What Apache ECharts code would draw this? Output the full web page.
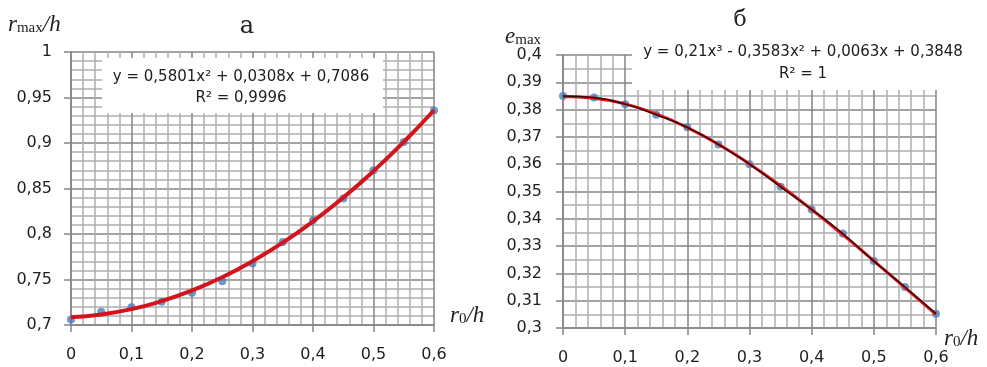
<!DOCTYPE html>
<html><head><meta charset="utf-8">
<script src="https://cdn.jsdelivr.net/npm/echarts@6/dist/echarts.min.js"></script>
<style>html,body{margin:0;padding:0;background:#fff}#c{width:987px;height:367px}</style>
</head><body><div id="c"></div>
<script>
// ---- data ----
const xValues    = [0, 0.05, 0.1, 0.15, 0.2, 0.25, 0.3, 0.35, 0.4, 0.45, 0.5, 0.55, 0.6];
const rmaxPoints = [0.706, 0.7146, 0.7194, 0.7256, 0.7354, 0.748, 0.7676, 0.7913, 0.815, 0.839, 0.870, 0.901, 0.9357];
const rmaxTrend  = [0.7086, 0.7116, 0.7174, 0.7263, 0.7380, 0.7525, 0.7701, 0.7905, 0.8138, 0.8400, 0.8691, 0.9011, 0.9360];
const emaxPoints = [0.3850, 0.3844, 0.3820, 0.3781, 0.3735, 0.3672, 0.3600, 0.3517, 0.3434, 0.3346, 0.3245, 0.3150, 0.3052];
const emaxTrend  = [0.3848, 0.3842, 0.3821, 0.3784, 0.3734, 0.3673, 0.3601, 0.3521, 0.3434, 0.3342, 0.3246, 0.3148, 0.3050];
const leftEquation  = ['y = 0,5801x² + 0,0308x + 0,7086', 'R² = 0,9996'];
const rightEquation = ['y = 0,21x³ - 0,3583x² + 0,0063x + 0,3848', 'R² = 1'];
const leftTitle = 'а';
const rightTitle = 'б';

// ---- helpers ----
const pairs = (xs, ys) => xs.map((x, i) => [x, ys[i]]);
const fmt = v => String(Math.round(v * 1000) / 1000).replace('.', ',');
const TXT = '#1e1e1e';
const MAJOR = '#858585', MINOR = '#afafaf';
const labelFont = { fontFamily: 'DejaVu Sans', fontSize: 16, color: TXT };

function xAxisFor(gi) {
  return {
    type: 'value', gridIndex: gi, min: 0, max: 0.6, interval: 0.1,
    axisLine: { show: true, onZero: false, lineStyle: { color: MAJOR, width: 1.5 } },
    axisTick: { show: true, length: 7, lineStyle: { color: MAJOR, width: 1.5 } },
    axisLabel: Object.assign({ formatter: fmt, margin: 22, showMinLabel: true, showMaxLabel: true, hideOverlap: false }, labelFont),
    splitLine: { show: true, lineStyle: { color: MAJOR, width: 1.5 } },
    minorTick: { show: false, splitNumber: 5 },
    minorSplitLine: { show: true, lineStyle: { color: MINOR, width: 1.5 } }
  };
}
function yAxisFor(gi, min, max, interval, minorSplit, margin) {
  return {
    type: 'value', gridIndex: gi, min: min, max: max, interval: interval,
    axisLine: { show: true, onZero: false, lineStyle: { color: MAJOR, width: 1.5 } },
    axisTick: { show: true, length: 7, lineStyle: { color: MAJOR, width: 1.5 } },
    axisLabel: Object.assign({ formatter: fmt, margin: margin, showMinLabel: true, showMaxLabel: true, hideOverlap: false }, labelFont),
    splitLine: { show: true, lineStyle: { color: MAJOR, width: 1.5 } },
    minorTick: { show: false, splitNumber: minorSplit },
    minorSplitLine: { show: true, lineStyle: { color: MINOR, width: 1.5 } }
  };
}

const serif = 'Liberation Serif';
const richVar = {
  i: { fontFamily: serif, fontStyle: 'italic', fontWeight: 'normal', fontSize: 23, color: '#222', verticalAlign: 'bottom', lineHeight: 24 },
  s: { fontFamily: serif, fontWeight: 'normal', fontSize: 15, color: '#222', verticalAlign: 'bottom', lineHeight: 20 }
};
function richTitle(text, left, top) {
  return { text: text, left: left, top: top, padding: 0,
    textStyle: { rich: richVar, fontSize: 22, fontWeight: 'normal' } };
}

const eqStyle = { font: '15px "DejaVu Sans"', fill: '#202020', align: 'center', verticalAlign: 'middle' };

const option = {
  animation: false,
  backgroundColor: '#ffffff',
  grid: [
    { left: 71, right: 553, top: 52, bottom: 42, outerBoundsMode: 'none' },
    { left: 563, right: 51, top: 55, bottom: 39, outerBoundsMode: 'none' }
  ],
  xAxis: [xAxisFor(0), xAxisFor(1)],
  yAxis: [
    yAxisFor(0, 0.7, 1, 0.05, 5, 19),
    yAxisFor(1, 0.3, 0.4, 0.01, 2, 21)
  ],
  title: [
    richTitle('{i|r}{s|max}{i|/h}', 8, 12),
    richTitle('{i|e}{s|max}', 505, 24),
    richTitle('{i|r}{s|0}{i|/h}', 450, 303),
    richTitle('{i|r}{s|0}{i|/h}', 944, 326)
  ],
  graphic: [
    { type: 'rect', z: 1, shape: { x: 102, y: 58, width: 281, height: 55 }, style: { fill: '#ffffff' } },
    { type: 'rect', z: 1, shape: { x: 632, y: 30, width: 355, height: 60 }, style: { fill: '#ffffff' } },
    { type: 'text', z: 10, x: 241, y: 77, style: Object.assign({ text: leftEquation[0] }, eqStyle) },
    { type: 'text', z: 10, x: 241, y: 98, style: Object.assign({ text: leftEquation[1] }, eqStyle) },
    { type: 'text', z: 10, x: 803, y: 52, style: Object.assign({ text: rightEquation[0] }, eqStyle) },
    { type: 'text', z: 10, x: 803, y: 74, style: Object.assign({ text: rightEquation[1] }, eqStyle) },
    { type: 'text', z: 10, x: 247, y: 27, style: { text: leftTitle, font: '24px "DejaVu Serif"', fill: '#222', align: 'center', verticalAlign: 'middle' } },
    { type: 'text', z: 10, x: 740, y: 20, style: { text: rightTitle, font: '22px "DejaVu Serif"', fill: '#222', align: 'center', verticalAlign: 'middle' } }
  ],
  series: [
    { type: 'scatter', xAxisIndex: 0, yAxisIndex: 0, data: pairs(xValues, rmaxPoints),
      symbolSize: 8, itemStyle: { color: '#4a7ebb' }, z: 3 },
    { type: 'line', xAxisIndex: 0, yAxisIndex: 0, data: pairs(xValues, rmaxTrend),
      smooth: true, showSymbol: false, lineStyle: { color: '#d3141c', width: 4 }, z: 4 },
    { type: 'scatter', xAxisIndex: 1, yAxisIndex: 1, data: pairs(xValues, emaxPoints),
      symbolSize: 8, itemStyle: { color: '#4a7ebb' }, z: 3 },
    { type: 'line', xAxisIndex: 1, yAxisIndex: 1, data: pairs(xValues, emaxTrend),
      smooth: true, showSymbol: false, lineStyle: { color: '#e3161c', width: 3 }, z: 4 },
    { type: 'line', xAxisIndex: 1, yAxisIndex: 1, data: pairs(xValues, emaxPoints),
      smooth: true, showSymbol: false, lineStyle: { color: '#3a0505', width: 1.5 }, z: 5 }
  ]
};
echarts.init(document.getElementById('c')).setOption(option);
</script></body></html>
